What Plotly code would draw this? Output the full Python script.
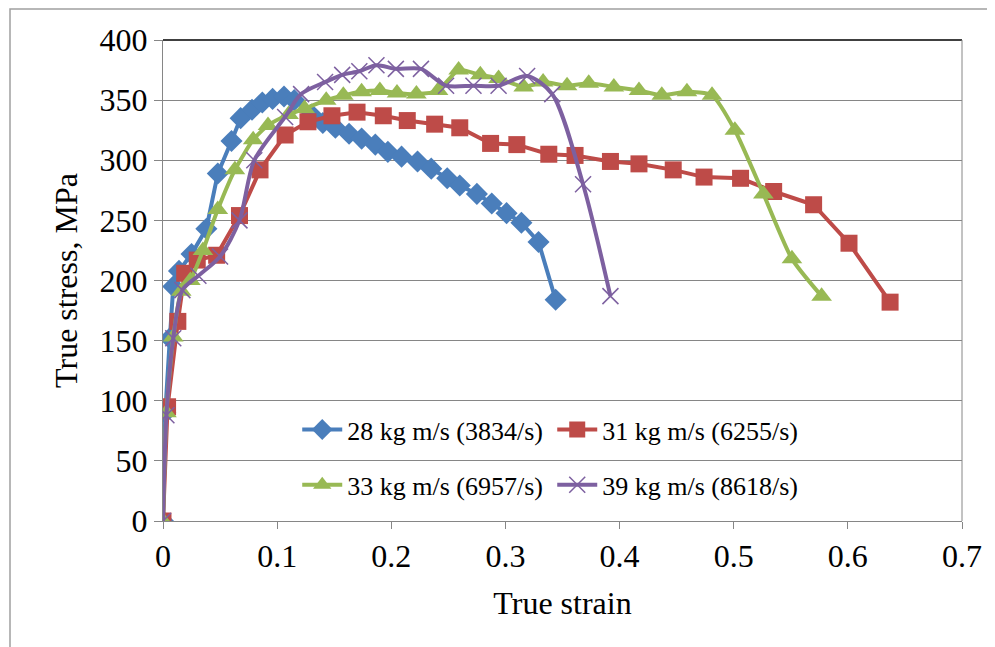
import plotly.graph_objects as go

# ---- data ----
strain_28 = [0, 0.002, 0.006, 0.009, 0.014, 0.025, 0.038, 0.048, 0.060, 0.068, 0.078, 0.087, 0.096, 0.106,
             0.115, 0.130, 0.140, 0.151, 0.163, 0.174, 0.186, 0.197, 0.209, 0.223, 0.235, 0.249, 0.260,
             0.275, 0.288, 0.301, 0.314, 0.329, 0.344]
stress_28 = [0, 90, 152, 195, 208, 222, 243, 289, 316, 335, 342, 348, 351, 353,
             350, 338, 331, 327, 322, 318, 313, 307, 303, 299, 293, 285, 279,
             272, 264, 256, 248, 232, 184]

strain_31 = [0, 0.004, 0.013, 0.019, 0.030, 0.047, 0.067, 0.085, 0.107, 0.127, 0.148, 0.170, 0.193,
             0.214, 0.238, 0.260, 0.287, 0.310, 0.338, 0.361, 0.392, 0.417, 0.447, 0.474, 0.506,
             0.535, 0.570, 0.601, 0.637]
stress_31 = [0, 95, 166, 206, 217, 221, 254, 292, 321, 332, 337, 340, 337,
             333, 330, 327, 314, 313, 305, 304, 299, 297, 292, 286, 285,
             274, 263, 231, 182]

strain_33 = [0, 0.003, 0.009, 0.016, 0.024, 0.035, 0.048, 0.063, 0.079, 0.092, 0.110, 0.124, 0.143,
             0.158, 0.174, 0.190, 0.205, 0.222, 0.241, 0.259, 0.278, 0.294, 0.316, 0.333, 0.354,
             0.373, 0.395, 0.417, 0.437, 0.459, 0.481, 0.501, 0.526, 0.551, 0.577]
stress_33 = [0, 90, 153, 191, 200, 225, 259, 292, 317, 329, 338, 343, 350,
             354, 357, 358, 356, 355, 358, 375, 371, 368, 361, 365, 362,
             364, 361, 358, 354, 357, 354, 325, 272, 218, 187]

strain_39 = [0, 0.003, 0.009, 0.017, 0.031, 0.050, 0.067, 0.080, 0.107, 0.121, 0.142, 0.157, 0.172,
             0.187, 0.204, 0.226, 0.248, 0.272, 0.294, 0.319, 0.341, 0.368, 0.392]
stress_39 = [0, 88, 152, 192, 204, 220, 250, 300, 336, 355, 365, 371, 374,
             379, 376, 376, 362, 362, 362, 370, 355, 280, 187]

names = ["28 kg m/s (3834/s)", "31 kg m/s (6255/s)", "33 kg m/s (6957/s)", "39 kg m/s (8618/s)"]

x_ticks = [0, 0.1, 0.2, 0.3, 0.4, 0.5, 0.6, 0.7]
x_labels = ["0", "0.1", "0.2", "0.3", "0.4", "0.5", "0.6", "0.7"]
y_ticks = [0, 50, 100, 150, 200, 250, 300, 350, 400]

FONT = "Liberation Serif"
GRID = "#868686"
AX_SIZE = 32

fig = go.Figure()
fig.add_trace(go.Scatter(x=strain_28, y=stress_28, name=names[0], mode="lines+markers",
                         line=dict(color="#4A7EBB", width=4),
                         marker=dict(symbol="diamond", size=17, color="#4A7EBB"),
                         legend="legend"))
fig.add_trace(go.Scatter(x=strain_31, y=stress_31, name=names[1], mode="lines+markers",
                         line=dict(color="#BE4B48", width=4),
                         marker=dict(symbol="square", size=17, color="#BE4B48"),
                         legend="legend"))
fig.add_trace(go.Scatter(x=strain_33, y=stress_33, name=names[2], mode="lines+markers",
                         line=dict(color="#98B954", width=4, shape="spline", smoothing=0.6),
                         marker=dict(symbol="triangle-up", size=18, color="#98B954"),
                         legend="legend2"))
fig.add_trace(go.Scatter(x=strain_39, y=stress_39, name=names[3], mode="lines+markers",
                         line=dict(color="#7D60A0", width=4, shape="spline", smoothing=0.8),
                         marker=dict(symbol="x-thin", size=16, color="#7D60A0",
                                     line=dict(color="#7D60A0", width=1.5)),
                         legend="legend2"))

fig.update_layout(
    width=995, height=647,
    margin=dict(l=155, r=41, t=32, b=134),
    paper_bgcolor="white", plot_bgcolor="white",
    font=dict(family=FONT, size=AX_SIZE, color="black"),
    legend=dict(orientation="h", x=0.168, y=0.19, xanchor="left", yanchor="middle",
                bgcolor="rgba(0,0,0,0)", font=dict(family=FONT, size=26),
                entrywidth=200, entrywidthmode="pixels", tracegroupgap=0, itemwidth=40),
    legend2=dict(orientation="h", x=0.168, y=0.075, xanchor="left", yanchor="middle",
                 bgcolor="rgba(0,0,0,0)", font=dict(family=FONT, size=26),
                 entrywidth=200, entrywidthmode="pixels", tracegroupgap=0, itemwidth=40),
    xaxis=dict(range=[0, 0.7], tickvals=x_ticks, ticktext=x_labels,
               showgrid=False, zeroline=False,
               showline=True, linecolor=GRID, linewidth=1,
               ticks="outside", ticklen=7, tickcolor=GRID,
               tickfont=dict(family=FONT, size=AX_SIZE),
               title=dict(text="True strain", font=dict(family=FONT, size=AX_SIZE), standoff=18)),
    yaxis=dict(range=[0, 400], tickvals=y_ticks,
               showgrid=True, gridcolor=GRID, gridwidth=1, zeroline=False,
               showline=True, linecolor=GRID, linewidth=1,
               ticks="outside", ticklen=8, tickcolor=GRID,
               tickfont=dict(family=FONT, size=AX_SIZE),
               title=dict(text="True stress, MPa", font=dict(family=FONT, size=AX_SIZE), standoff=12)),
    shapes=[
        dict(type="line", xref="paper", yref="paper", x0=0, x1=1, y0=1, y1=1,
             line=dict(color="black", width=1.5)),
        dict(type="line", xref="paper", yref="paper", x0=1, x1=1, y0=0, y1=1,
             line=dict(color=GRID, width=1)),
        dict(type="rect", xref="paper", yref="paper",
             x0=(10 - 163) / 799, x1=(1010 - 163) / 799,
             y0=(521 - 660) / 481, y1=(521 - 9) / 481,
             line=dict(color="#A0A0A0", width=1.5), layer="below"),
    ],
)

fig.write_html("out.html")
